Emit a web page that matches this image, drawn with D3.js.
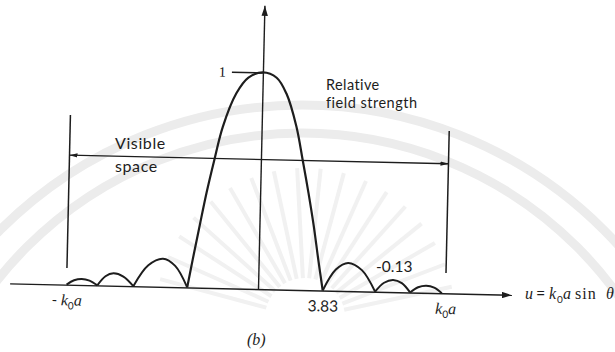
<!DOCTYPE html>
<html>
<head>
<meta charset="utf-8">
<script src="https://cdn.jsdelivr.net/npm/d3@7"></script>
<style>
  html, body { margin: 0; padding: 0; background: #ffffff; }
  svg { display: block; }
</style>
</head>
<body>
<svg id="chart" width="615" height="352"></svg>
<script>
// Main lobe of the relative field pattern, u = k0 a sin θ
const mainU = [-4.19, -3.90, -3.55, -3.17, -2.76, -2.30, -1.55, -0.85, 0, 0.82, 1.42, 2.05, 2.47, 2.86, 3.22, 3.53, 3.83];
const mainV = [0, 0.13, 0.28, 0.44, 0.59, 0.745, 0.90, 0.975, 1, 0.977, 0.905, 0.755, 0.600, 0.448, 0.294, 0.140, 0];

// Side lobes (zero, shoulder, peak, shoulder, zero); signed field values
const sideU = [
  [3.83, 4.58, 5.30, 6.12, 6.93],
  [6.93, 7.45, 7.98, 8.50, 9.00],
  [9.00, 9.47, 9.95, 10.42, 10.88],
  [-4.19, -4.93, -5.66, -6.52, -7.38],
  [-7.38, -7.98, -8.57, -9.04, -9.51],
  [-9.51, -9.98, -10.44, -10.89, -11.33]
];
const sideV = [
  [0, -0.098, -0.13, -0.098, 0],
  [0, 0.042, 0.056, 0.042, 0],
  [0, -0.025, -0.033, -0.025, 0],
  [0, -0.098, -0.13, -0.098, 0],
  [0, 0.043, 0.057, 0.043, 0],
  [0, -0.021, -0.028, -0.021, 0]
];

// Visible-space bracket: edges at ±k0a, arrow level, edge line extents
const visibleEdges = [-11.33, 11.10];
const visibleLevel = 0.598;
const edgeSpans = [[0.077, 0.783], [0.094, 0.749]];

// Axis ticks and labels
const xTickValues = [-11.33, 3.83, 11.10];
const xTickLabels = ["-k0a", "3.83", "k0a"];
const yTickValues = [1];
const yTickLabels = ["1"];
const sideLobeLabel = "-0.13";

const svg = d3.select("#chart");
const ink = "#1d1d1d";
const serif = "'Liberation Serif', 'DejaVu Serif', serif";
const sans = "Lato, 'Open Sans', sans-serif";

// faint watermark behind the figure
const wm = svg.append("g").attr("fill", "none").attr("stroke", "#ececec");
wm.append("circle").attr("cx", 302).attr("cy", 532).attr("r", 427).attr("stroke-width", 9);
wm.append("circle").attr("cx", 302).attr("cy", 522).attr("r", 389).attr("stroke-width", 9);
const rays = d3.range(195, 350, 9);
wm.selectAll("line.ray").data(rays).join("line")
  .attr("class", "ray")
  .attr("stroke", "#f1f1f1")
  .attr("stroke-width", 4)
  .attr("x1", a => 305 + 40 * Math.cos(a * Math.PI / 180))
  .attr("y1", a => 318 + 40 * Math.sin(a * Math.PI / 180))
  .attr("x2", a => 305 + 150 * Math.cos(a * Math.PI / 180))
  .attr("y2", a => 318 + 150 * Math.sin(a * Math.PI / 180));

// arrowheads
const defs = svg.append("defs");
function arrow(id, len, half) {
  defs.append("marker")
    .attr("id", id)
    .attr("viewBox", `0 ${-half} ${len} ${2 * half}`)
    .attr("refX", len).attr("refY", 0)
    .attr("markerUnits", "userSpaceOnUse")
    .attr("markerWidth", len).attr("markerHeight", 2 * half)
    .attr("orient", "auto-start-reverse")
    .append("path")
    .attr("d", `M0,${-half}L${len},0L0,${half}Z`)
    .attr("fill", ink);
}
arrow("axisArrow", 10, 3.2);
arrow("spanArrow", 8, 2.2);

// scales: origin at the axis crossing
const ox = 258, oy = 289, pxU = 16.9, pxV = 216.6;
const x = d3.scaleLinear().domain([-14.7, 15.0]).range([ox - 14.7 * pxU, ox + 15.0 * pxU]);
const y = d3.scaleLinear().domain([0, 1.31]).range([oy, oy - 1.31 * pxV]);

const g = svg.append("g").attr("transform", `rotate(1.3 ${ox} ${oy})`);

// horizontal axis with labelled positions
const xAxis = g.append("g")
  .attr("transform", `translate(0,${y(0)})`)
  .call(d3.axisBottom(x).tickValues(xTickValues).tickSize(0).tickSizeOuter(0).tickPadding(10)
    .tickFormat((d, i) => xTickLabels[i]));
xAxis.select(".domain").attr("stroke", ink).attr("stroke-width", 1.5).attr("marker-end", "url(#axisArrow)");
xAxis.selectAll(".tick text").each(function (d, i) {
  const t = d3.select(this).text(null).attr("fill", ink).attr("font-size", 15);
  const lab = xTickLabels[i];
  if (lab.includes("k0a")) {
    if (lab.startsWith("-")) t.append("tspan").attr("font-family", sans).text("- ");
    t.append("tspan").attr("font-family", serif).attr("font-style", "italic").attr("font-size", 16).text("k");
    t.append("tspan").attr("font-family", sans).attr("font-size", 10).attr("dy", 4).text("0");
    t.append("tspan").attr("font-family", serif).attr("font-style", "italic").attr("font-size", 16).attr("dy", -4).text("a");
  } else {
    t.attr("font-family", sans).attr("font-size", 15.5).text(lab);
  }
});

// vertical axis with the unit tick
const yAxis = g.append("g")
  .attr("transform", `translate(${x(0)},0)`)
  .call(d3.axisLeft(y).tickValues(yTickValues).tickSize(31).tickSizeOuter(0).tickPadding(6)
    .tickFormat((d, i) => yTickLabels[i]));
yAxis.select(".domain").attr("stroke", ink).attr("stroke-width", 1.4).attr("marker-end", "url(#axisArrow)");
yAxis.selectAll(".tick line").attr("stroke", ink).attr("stroke-width", 1.4);
yAxis.selectAll(".tick text").attr("fill", "#111").attr("font-family", serif).attr("font-size", 14);

// field pattern
const line = d3.line().x(d => x(d[0])).y(d => y(Math.abs(d[1]))).curve(d3.curveCatmullRom.alpha(0.5));
g.append("path")
  .datum(mainU.map((u, i) => [u, mainV[i]]))
  .attr("d", line)
  .attr("fill", "none").attr("stroke", ink).attr("stroke-width", 2.2);
g.selectAll("path.lobe").data(sideU.map((us, k) => us.map((u, i) => [u, sideV[k][i]])))
  .join("path").attr("class", "lobe")
  .attr("d", line)
  .attr("fill", "none").attr("stroke", ink).attr("stroke-width", 2);

// visible-space bracket
visibleEdges.forEach((u, i) => {
  g.append("line")
    .attr("x1", x(u)).attr("x2", x(u))
    .attr("y1", y(edgeSpans[i][0])).attr("y2", y(edgeSpans[i][1]))
    .attr("stroke", ink).attr("stroke-width", 1.5);
});
g.append("line")
  .attr("x1", x(visibleEdges[0])).attr("x2", x(visibleEdges[1]))
  .attr("y1", y(visibleLevel)).attr("y2", y(visibleLevel))
  .attr("stroke", ink).attr("stroke-width", 1.4)
  .attr("marker-start", "url(#spanArrow)").attr("marker-end", "url(#spanArrow)");

// annotations
const txt = svg.append("g").attr("fill", ink).attr("font-family", sans).attr("font-size", 14.5);
txt.append("text").attr("x", 326).attr("y", 89.5).attr("letter-spacing", 0.4).text("Relative");
txt.append("text").attr("x", 326).attr("y", 108).attr("letter-spacing", 0.5).text("field strength");
txt.append("text").attr("x", 115).attr("y", 148.5).attr("font-size", 16).attr("letter-spacing", 0.6).text("Visible");
txt.append("text").attr("x", 115).attr("y", 171.5).attr("font-size", 16).attr("letter-spacing", 0.6).text("space");
txt.append("text").attr("x", 376).attr("y", 271.5).attr("font-size", 15.5).text(sideLobeLabel);
txt.append("text").attr("x", 247).attr("y", 345).attr("font-family", serif).attr("font-style", "italic").attr("font-size", 16).text("(b)");

const uLab = txt.append("text").attr("y", 299).attr("font-family", serif).attr("font-size", 16);
uLab.append("tspan").attr("x", 525).attr("font-style", "italic").text("u");
uLab.append("tspan").attr("x", 536).attr("font-family", sans).text("=");
uLab.append("tspan").attr("x", 549).attr("font-style", "italic").text("k");
uLab.append("tspan").attr("x", 557).attr("dy", 4).attr("font-family", sans).attr("font-size", 10).text("0");
uLab.append("tspan").attr("x", 563).attr("dy", -4).attr("font-style", "italic").text("a");
uLab.append("tspan").attr("x", 575).attr("letter-spacing", 1).text("sin");
uLab.append("tspan").attr("x", 606).attr("font-style", "italic").text("θ");
</script>
</body>
</html>
